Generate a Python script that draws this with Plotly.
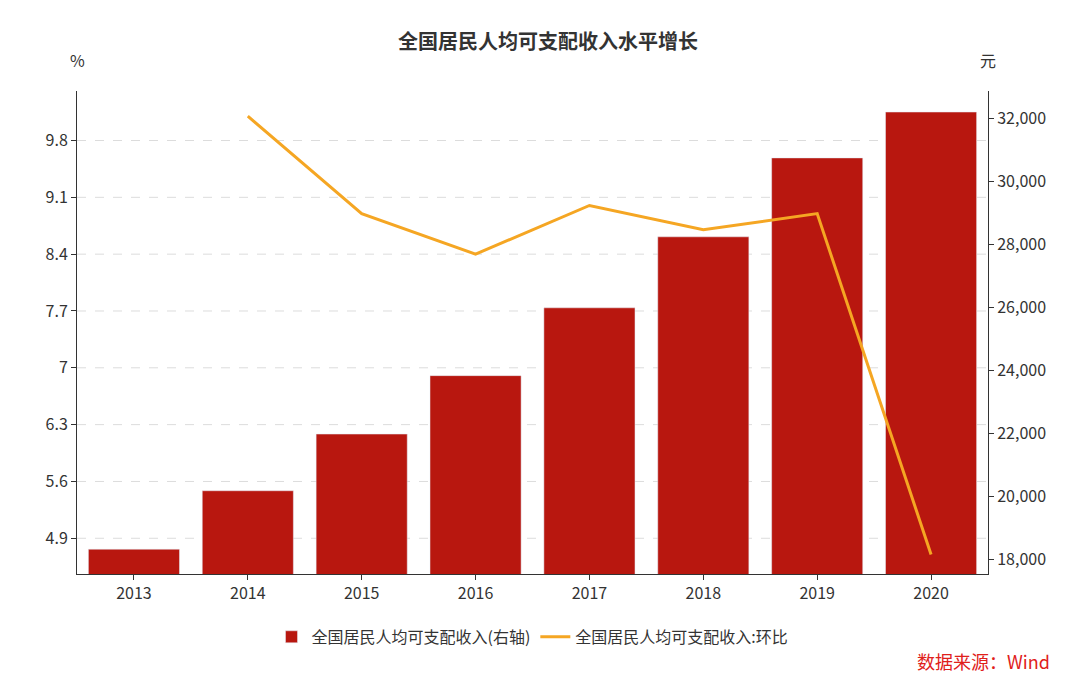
import plotly.graph_objects as go

years = ["2013", "2014", "2015", "2016", "2017", "2018", "2019", "2020"]
income = [18311, 20167, 21966, 23821, 25974, 28228, 30733, 32189]
growth = [None, 10.1, 8.9, 8.4, 9.0, 8.7, 8.9, 4.7]
left_ticks = [4.9, 5.6, 6.3, 7.0, 7.7, 8.4, 9.1, 9.8]
left_labels = ["4.9", "5.6", "6.3", "7", "7.7", "8.4", "9.1", "9.8"]
right_ticks = [18000, 20000, 22000, 24000, 26000, 28000, 30000, 32000]

font = "Noto Sans CJK SC"
axis_common = dict(showline=True, linecolor="#333", ticks="outside", ticklen=5,
                   tickcolor="#333", automargin=False, zeroline=False, showgrid=False,
                   tickfont=dict(size=16))
fig = go.Figure()
# bars on main y (shown on the right), line on overlaying y2 (shown on the left) so it draws on top
fig.add_trace(go.Bar(x=years, y=income, name="全国居民人均可支配收入(右轴)", yaxis="y",
                     marker_color="#B8170F", width=0.8))
fig.add_trace(go.Scatter(x=years, y=growth, name="全国居民人均可支配收入:环比", mode="lines",
                         yaxis="y2", line=dict(color="#F5A623", width=3)))
shapes = [dict(type="line", xref="paper", x0=0, x1=1, yref="y2", y0=v, y1=v, layer="below",
               line=dict(color="#dcdcdc", width=1, dash="dash")) for v in left_ticks]
fig.update_layout(
    width=1080, height=675, plot_bgcolor="white", paper_bgcolor="white",
    font=dict(family=font, size=16, color="#333"),
    margin=dict(l=69, r=100, t=83, b=109, autoexpand=False),
    title=dict(text="<b>全国居民人均可支配收入水平增长</b>", x=0.5, xanchor="center", y=0.96,
               font=dict(size=20, color="#333")),
    xaxis=dict(**axis_common),
    yaxis=dict(range=[17524, 32857], tickvals=right_ticks, tickformat=",", side="right",
               **axis_common),
    yaxis2=dict(overlaying="y", side="left", range=[4.46, 10.41], tickvals=left_ticks,
                ticktext=left_labels, **axis_common),
    shapes=shapes,
    legend=dict(orientation="h", x=0.5, xanchor="center", y=-0.095, yanchor="top",
                traceorder="normal", font=dict(size=16)),
    annotations=[
        dict(text="%", xref="paper", yref="paper", x=0, y=1.035, xanchor="center", yanchor="bottom",
             showarrow=False, font=dict(size=16)),
        dict(text="元", xref="paper", yref="paper", x=1, y=1.035, xanchor="center", yanchor="bottom",
             showarrow=False, font=dict(size=16)),
        dict(text="数据来源：Wind", xref="paper", yref="paper", x=1.07, y=-0.15, xanchor="right",
             yanchor="top", showarrow=False, font=dict(size=18, color="#E0201A")),
    ],
)
fig.write_html("out.html")
